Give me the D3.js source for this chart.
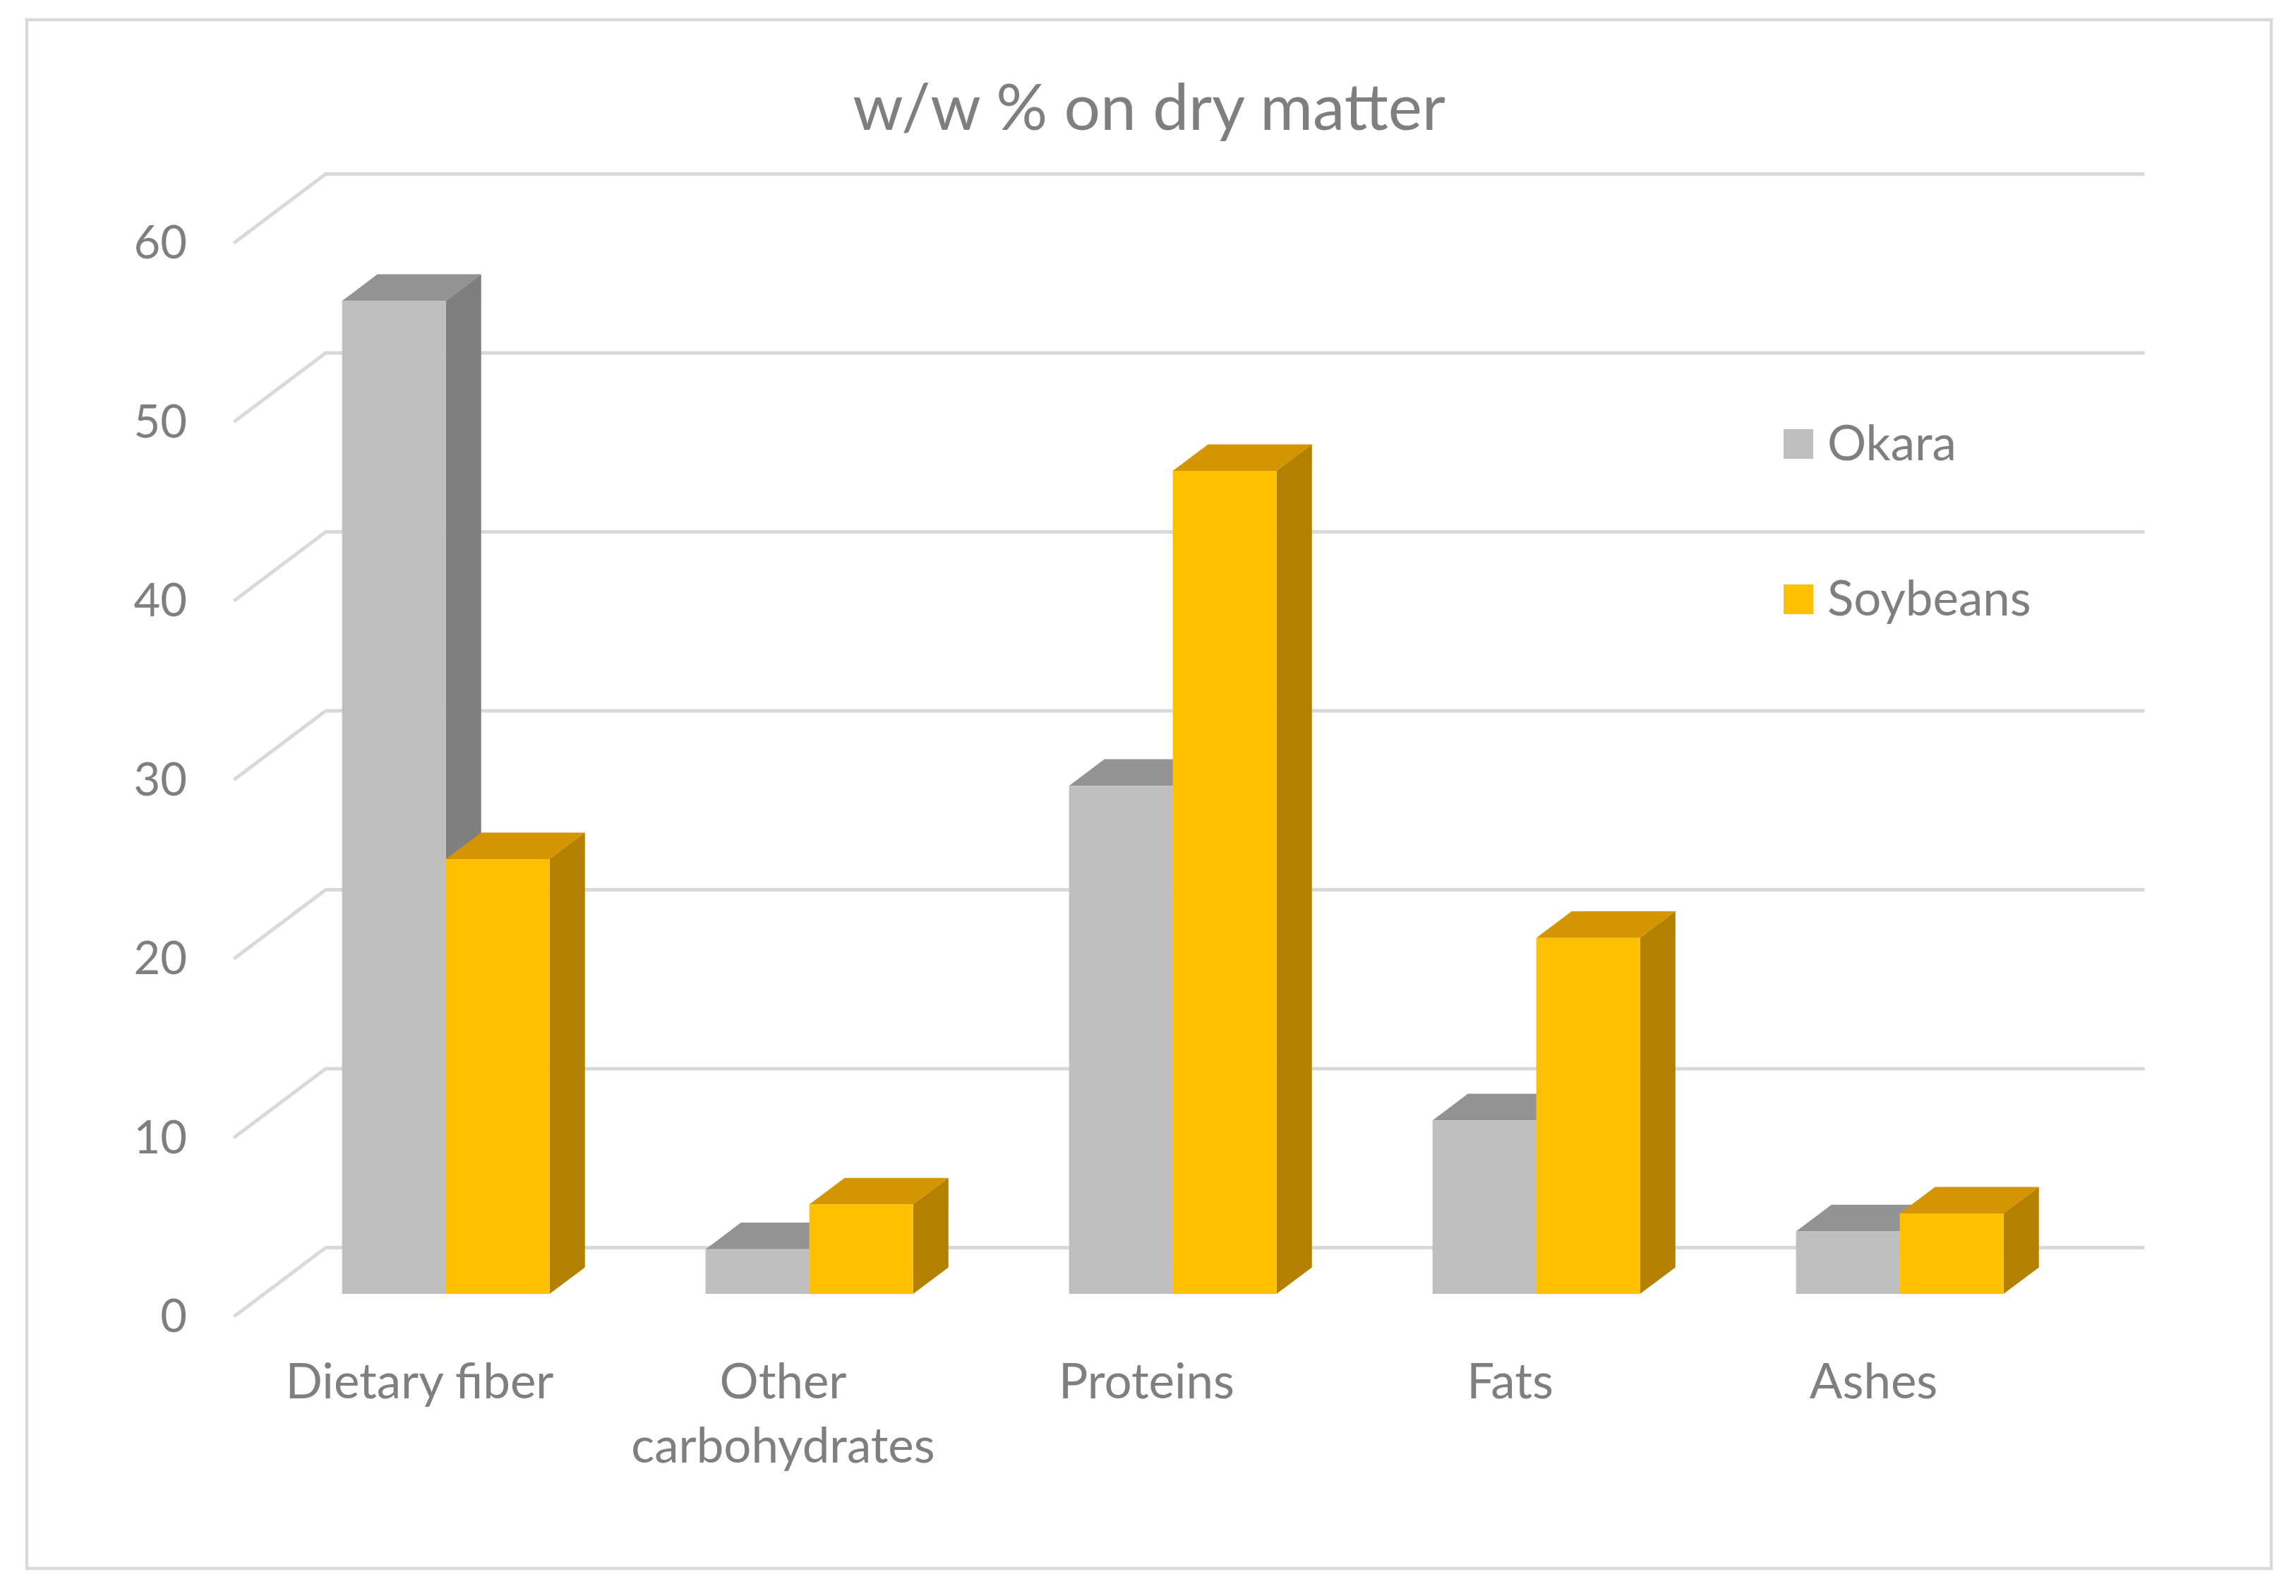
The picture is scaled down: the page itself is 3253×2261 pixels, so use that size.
<!DOCTYPE html>
<html>
<head>
<meta charset="utf-8">
<script src="https://cdn.jsdelivr.net/npm/d3@7"></script>
<style>
  html, body { margin: 0; padding: 0; background: #ffffff; }
  svg { display: block; }
  text { font-family: Lato, "Open Sans", "Noto Sans", sans-serif; fill: #7f7f7f; }
</style>
</head>
<body>
<svg id="chart" width="3253" height="2261"></svg>
<script>
// ---- data ----
const categories = ["Dietary fiber", "Other carbohydrates", "Proteins", "Fats", "Ashes"];
const categoryLabels = [["Dietary fiber"], ["Other", "carbohydrates"], ["Proteins"], ["Fats"], ["Ashes"]];
const seriesNames = ["Okara", "Soybeans"];
const okara = [55.5, 2.5, 28.4, 9.7, 3.5];
const soybeans = [24.3, 5.0, 46.0, 19.9, 4.5];
const yTicks = [0, 10, 20, 30, 40, 50, 60];
const titleText = "w/w % on dry matter";

// ---- styles / layout ----
const colors = {
  Okara:    { front: "#bfbfbf", top: "#939393", side: "#7f7f7f" },
  Soybeans: { front: "#ffc000", top: "#d49500", side: "#b38000" }
};
const W = 3253, H = 2261;
const floorFrontY = 1864;          // y of value 0 at front edge of floor
const depthVec = [128.5, -96.5];   // projection of full floor depth
const barD0 = 0.32, barD1 = 0.71;  // bar front/back depth fractions

const svg = d3.select("#chart");
svg.append("rect").attr("x", 0).attr("y", 0).attr("width", W).attr("height", H).attr("fill", "#ffffff");
svg.append("rect").attr("x", 38).attr("y", 28).attr("width", 3180).attr("height", 2194)
  .attr("fill", "none").attr("stroke", "#d9d9d9").attr("stroke-width", 4.5);

const x = d3.scaleBand().domain(categories).range([333, 2908]);
const xs = d3.scaleBand().domain(seriesNames).range([0, x.bandwidth()]).paddingInner(0).paddingOuter(0.7517);
const y = d3.scaleLinear().domain([0, 60]).range([0, 1521]);

function P(px, d, v) {
  return [px + d * depthVec[0], floorFrontY + d * depthVec[1] - y(v)];
}

// title
svg.append("text").attr("x", 1628).attr("y", 184).attr("text-anchor", "middle")
  .style("font-size", "91px").text(titleText);

// gridlines
const backRight = x.range()[1] + depthVec[0];
const grid = svg.append("g");
yTicks.forEach(t => {
  const f = P(x.range()[0], 0, t);
  const b = P(x.range()[0], 1, t);
  grid.append("polyline")
    .attr("points", [f, b, [backRight, b[1]]].map(p => p.join(",")).join(" "))
    .attr("fill", "none").attr("stroke", "#d9d9d9").attr("stroke-width", 5)
    .attr("stroke-linecap", "round").attr("stroke-linejoin", "round");
});

// y tick labels
const yAxisG = svg.append("g");
yTicks.forEach(t => {
  const f = P(x.range()[0], 0, t);
  yAxisG.append("text").attr("x", 265).attr("y", f[1] + 23).attr("text-anchor", "end")
    .style("font-size", "65px").text(d3.format("d")(t));
});

// bars
const seriesData = { Okara: okara, Soybeans: soybeans };
const barsG = svg.append("g");
categories.forEach((c, i) => {
  seriesNames.forEach(s => {
    const v = seriesData[s][i];
    const x0 = x(c) + xs(s), x1 = x0 + xs.bandwidth();
    const col = colors[s];
    const poly = pts => pts.map(p => p.join(",")).join(" ");
    const g = barsG.append("g");
    g.append("polygon").attr("points", poly([P(x0, barD0, v), P(x1, barD0, v), P(x1, barD1, v), P(x0, barD1, v)]))
      .attr("fill", col.top);
    g.append("polygon").attr("points", poly([P(x1, barD0, 0), P(x1, barD1, 0), P(x1, barD1, v), P(x1, barD0, v)]))
      .attr("fill", col.side);
    g.append("polygon").attr("points", poly([P(x0, barD0, 0), P(x1, barD0, 0), P(x1, barD0, v), P(x0, barD0, v)]))
      .attr("fill", col.front);
  });
});

// category labels
const catG = svg.append("g");
categories.forEach((c, i) => {
  const cx = x(c) + x.bandwidth() / 2;
  const t = catG.append("text").attr("text-anchor", "middle").style("font-size", "69px");
  categoryLabels[i].forEach((line, j) => {
    t.append("tspan").attr("x", cx + 4).attr("y", 1981 + j * 91).text(line);
  });
});

// legend
const leg = svg.append("g");
seriesNames.forEach((s, i) => {
  const ly = 608 + i * 220;
  leg.append("rect").attr("x", 2527).attr("y", ly).attr("width", 42).attr("height", 42).attr("fill", colors[s].front);
  leg.append("text").attr("x", 2589).attr("y", ly + 44).style("font-size", "69px").text(s);
});
</script>
</body>
</html>
